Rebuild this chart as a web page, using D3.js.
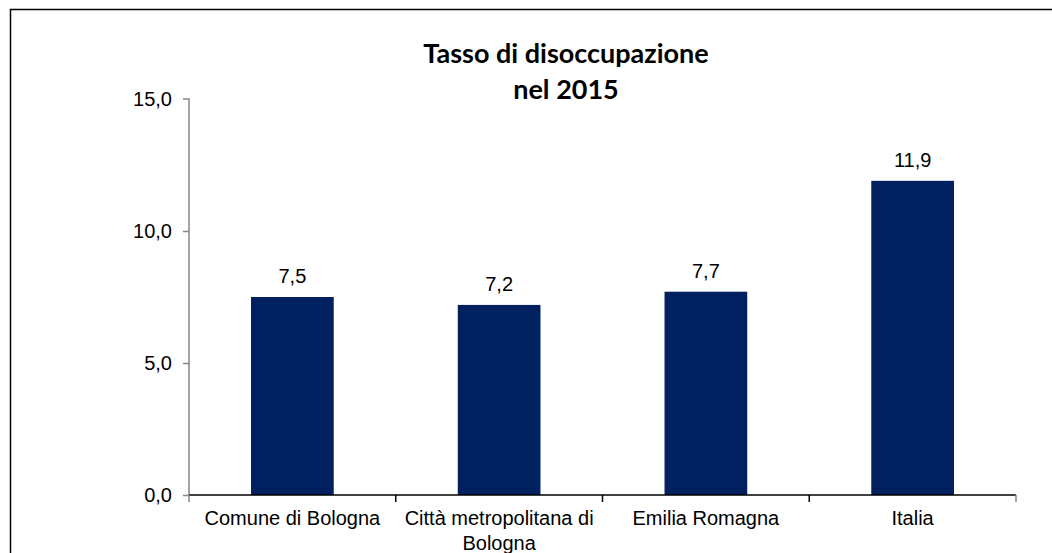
<!DOCTYPE html>
<html>
<head>
<meta charset="utf-8">
<script src="https://cdn.jsdelivr.net/npm/d3@7"></script>
<style>
  body { margin: 0; background: #fff; }
  svg { display: block; }
</style>
</head>
<body>
<div class="chart"></div>
<script>
const categories = [["Comune di Bologna"], ["Città metropolitana di", "Bologna"], ["Emilia Romagna"], ["Italia"]];
const values = [7.5, 7.2, 7.7, 11.9];
const yTicks = [0, 5, 10, 15];
const titleLines = ["Tasso di disoccupazione", "nel 2015"];

const W = 1052, H = 553;
const margin = {top: 99, right: 36, bottom: 58, left: 189};
const width = W - margin.left - margin.right;
const height = H - margin.top - margin.bottom;

const svg = d3.select(".chart")
    .append("svg")
    .attr("width", W)
    .attr("height", H);

// outer frame (right & bottom run off the picture)
svg.append("path")
    .attr("d", `M10.5,${H + 5}V9.5H${W + 5}`)
    .attr("fill", "none")
    .attr("stroke", "#000")
    .attr("stroke-width", 1.5);

const g = svg.append("g")
    .attr("transform", `translate(${margin.left},${margin.top})`);

const xScale = d3.scaleBand()
    .domain(d3.range(categories.length))
    .range([0, width])
    .padding(0);

const yScale = d3.scaleLinear()
    .domain([0, 15])
    .range([height, 0]);

const fmt = v => d3.format(".1f")(v).replace(".", ",");

// y axis
const yAxis = d3.axisLeft(yScale)
    .tickValues(yTicks)
    .tickSize(6)
    .tickPadding(11)
    .tickFormat(fmt);

const yg = g.append("g").call(yAxis);
yg.select(".domain").attr("stroke", "#868686").attr("stroke-width", 1.5)
    .attr("d", `M0,${height}V0H-6`);
yg.selectAll(".tick line").attr("stroke", "#868686").attr("stroke-width", 1.5);
yg.selectAll(".tick text")
    .attr("font-family", "Liberation Sans, Arial, sans-serif")
    .attr("font-size", 20)
    .attr("fill", "#000");
yg.selectAll(".tick").filter(d => d === 15).select("line").remove();

// bars
const barW = xScale.bandwidth() * 0.4;
g.selectAll(".bar")
    .data(values)
    .enter()
    .append("rect")
    .attr("class", "bar")
    .attr("x", (d, i) => xScale(i) + (xScale.bandwidth() - barW) / 2)
    .attr("y", d => yScale(d))
    .attr("width", barW)
    .attr("height", d => height - yScale(d))
    .attr("fill", "#002060");

// value labels
g.selectAll(".val")
    .data(values)
    .enter()
    .append("text")
    .attr("class", "val")
    .attr("x", (d, i) => xScale(i) + xScale.bandwidth() / 2)
    .attr("y", d => yScale(d) - 14)
    .attr("text-anchor", "middle")
    .attr("font-family", "Liberation Sans, Arial, sans-serif")
    .attr("font-size", 20)
    .attr("fill", "#000")
    .text(d => fmt(d));

// x axis
const xg = g.append("g").attr("transform", `translate(0,${height})`);
xg.append("line")
    .attr("x1", 0).attr("x2", width)
    .attr("stroke", "#000").attr("stroke-width", 1.5);
const edges = d3.range(categories.length + 1).map(i => i * xScale.step());
xg.selectAll(".xtick")
    .data(edges)
    .enter()
    .append("line")
    .attr("x1", d => d).attr("x2", d => d)
    .attr("y1", 0).attr("y2", 7)
    .attr("stroke", (d, i) => (i === 0 || i === categories.length) ? "#868686" : "#000")
    .attr("stroke-width", 1.5);

const lab = xg.selectAll(".xlab")
    .data(categories)
    .enter()
    .append("text")
    .attr("class", "xlab")
    .attr("text-anchor", "middle")
    .attr("font-family", "Liberation Sans, Arial, sans-serif")
    .attr("font-size", 20)
    .attr("fill", "#000");
lab.selectAll("tspan")
    .data((d, i) => d.map(t => ({t, i})))
    .enter()
    .append("tspan")
    .attr("x", d => xScale(d.i) + xScale.bandwidth() / 2)
    .attr("y", (d, j) => 30 + j * 25)
    .text(d => d.t);

// title
svg.append("text")
    .attr("text-anchor", "middle")
    .attr("font-family", "Lato, 'Open Sans', sans-serif")
    .attr("font-weight", "bold")
    .attr("font-size", 27)
    .attr("fill", "#000")
    .selectAll("tspan")
    .data(titleLines)
    .enter()
    .append("tspan")
    .attr("x", 566)
    .attr("y", (d, i) => 63 + i * 36)
    .text(d => d);
</script>
</body>
</html>
